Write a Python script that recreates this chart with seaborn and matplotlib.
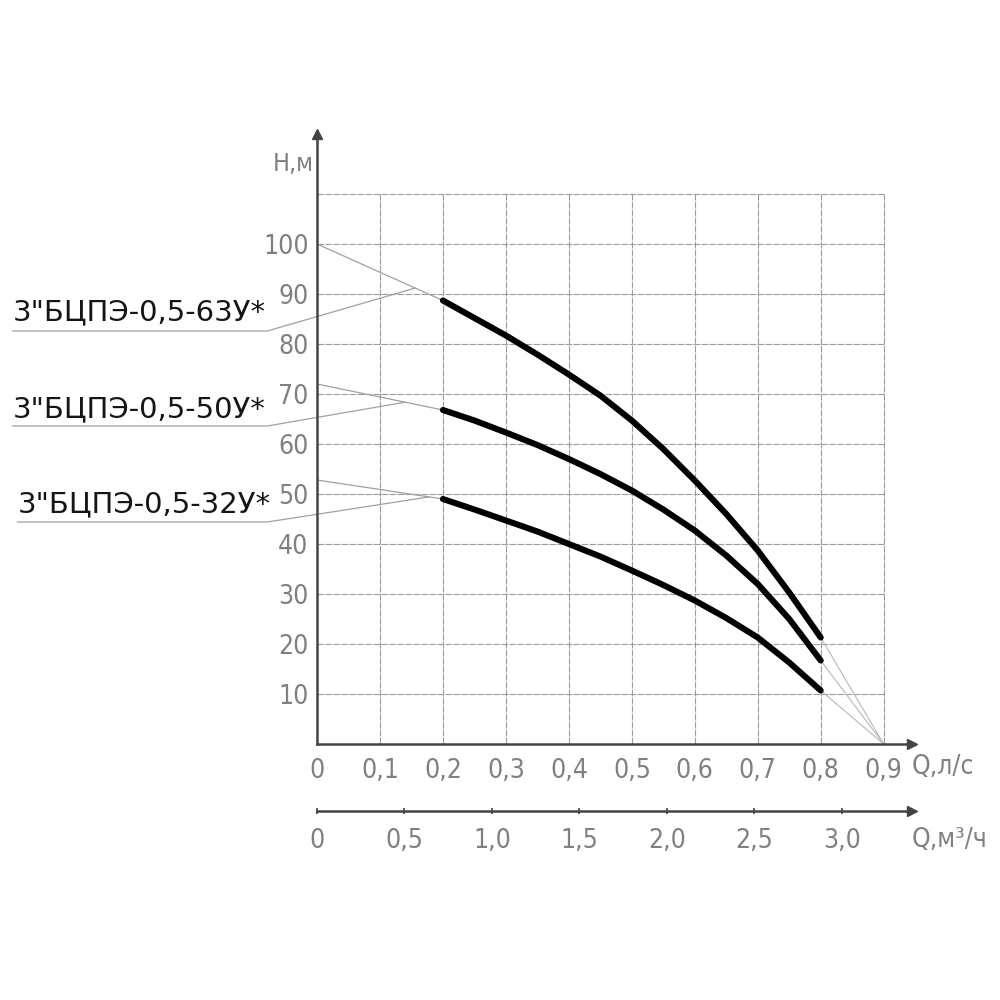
import pandas as pd
from matplotlib import pyplot as plt
import seaborn as sns

# Pump curves: Q in l/s, H in m
q = [0.2, 0.25, 0.3, 0.35, 0.4, 0.45, 0.5, 0.55, 0.6, 0.65, 0.7, 0.75, 0.8]
h_63 = [88.7, 85.2, 81.7, 77.9, 73.9, 69.7, 64.7, 59.0, 52.7, 46.0, 38.7, 30.3, 21.3]
h_50 = [66.8, 64.7, 62.3, 59.8, 57.0, 54.0, 50.7, 46.9, 42.7, 37.7, 32.0, 25.0, 16.7]
h_32 = [49.0, 46.9, 44.7, 42.5, 40.0, 37.5, 34.7, 31.8, 28.7, 25.2, 21.3, 16.3, 10.7]
models = ['3"БЦПЭ-0,5-63У*', '3"БЦПЭ-0,5-50У*', '3"БЦПЭ-0,5-32У*']
h_shutoff = [100, 72, 52.8]      # thin extension to Q = 0
q_max = 0.9                      # thin extension to H = 0
leader_t = [0.78, 0.70, 0.89]    # where label leaders meet the thin line (fraction of 0..0.2)

x_ticks = [0, 0.1, 0.2, 0.3, 0.4, 0.5, 0.6, 0.7, 0.8, 0.9]
y_ticks = [10, 20, 30, 40, 50, 60, 70, 80, 90, 100]
m3h_ticks = [0, 0.5, 1.0, 1.5, 2.0, 2.5, 3.0]


def comma(v, fmt='{:.1f}'):
    return '0' if v == 0 else fmt.format(v).replace('.', ',')


if __name__ == '__main__':
    sns.set_style('white')
    plt.rcParams['font.family'] = ['DejaVu Sans']
    plt.rcParams['font.stretch'] = 'condensed'
    tick_grey = '#808080'
    axis_col = '#444444'

    data = pd.DataFrame({
        'Q': q * 3,
        'H': h_63 + h_50 + h_32,
        'model': [m for m in models for _ in q],
    })

    fig = plt.figure(figsize=(10, 10), dpi=100)
    ax = fig.add_axes([0.317, 0.256, 0.595, 0.61])
    ax.set_xlim(0, 0.945)
    ax.set_ylim(0, 122)

    # hand-drawn style grid, stops at 0.9 / 110
    grid_kw = dict(color='#9c9c9c', lw=0.8, linestyle=(0, (6, 1.2)), zorder=1)
    ax.hlines(y_ticks + [110], 0, 0.9, **grid_kw)
    ax.vlines(x_ticks[1:], 0, 110, **grid_kw)

    # thin extensions of each curve
    curves = [h_63, h_50, h_32]
    for h0, h in zip(h_shutoff, curves):
        ax.plot([0, q[0]], [h0, h[0]], color='#a0a0a0', lw=0.9, zorder=2)
        ax.plot([q[-1], q_max], [h[-1], 0], color='#b8b8b8', lw=0.8, zorder=2)

    sns.lineplot(data=data, x='Q', y='H', hue='model', palette=['black'] * 3,
                 legend=False, lw=4.4, solid_capstyle='round', solid_joinstyle='round',
                 ax=ax, zorder=3)

    # model labels with leader lines
    label_y = [86.4, 67.0, 48.0]
    under_y = [82.6, 63.6, 44.4]
    label_x = [-0.484, -0.484, -0.476]
    for i, name in enumerate(models):
        h = curves[i]
        t = leader_t[i]
        px, py = q[0] * t, h_shutoff[i] + (h[0] - h_shutoff[i]) * t
        ax.text(label_x[i], label_y[i], name, fontsize=21, family=['DejaVu Sans'],
                fontstretch='normal', color='#151515', va='center', ha='left',
                clip_on=False)
        ax.plot([label_x[i], -0.079, px], [under_y[i], under_y[i], py],
                color='#a0a0a0', lw=0.9, clip_on=False)

    # axes with arrows
    sns.despine(ax=ax)
    for s in ['left', 'bottom']:
        ax.spines[s].set_color(axis_col)
        ax.spines[s].set_linewidth(1.8)
    ax.plot(1, 0, '>', color=axis_col, ms=7, transform=ax.transAxes, clip_on=False)
    ax.plot(0, 1, '^', color=axis_col, ms=7, transform=ax.transAxes, clip_on=False)

    ax.set_xticks(x_ticks)
    ax.set_xticklabels([comma(v) for v in x_ticks])
    ax.set_yticks(y_ticks)
    ax.set_yticklabels([str(v) for v in y_ticks])
    ax.tick_params(axis='x', length=0, pad=10, labelsize=19, labelcolor=tick_grey)
    ax.tick_params(axis='y', length=0, pad=6, labelsize=19, labelcolor=tick_grey)
    ax.set_xlabel('')
    ax.set_ylabel('')

    ax.text(-0.038, 116, 'Н,м', fontsize=18, color=tick_grey, ha='center', va='center')
    ax.text(0.944, -4.6, 'Q,л/с', fontsize=19, color=tick_grey, ha='left', va='center',
            clip_on=False)

    # second flow scale in m3/h
    sec = ax.secondary_xaxis(-0.11, functions=(lambda v: v * 3.6, lambda v: v / 3.6))
    sec.set_xticks(m3h_ticks)
    sec.set_xticklabels([comma(v) for v in m3h_ticks])
    sec.tick_params(direction='inout', length=5, width=1.2, color=axis_col, pad=10,
                    labelsize=19, labelcolor=tick_grey)
    sec.spines['bottom'].set_color(axis_col)
    sec.spines['bottom'].set_linewidth(1.8)
    ax.plot(1, -0.11, '>', color=axis_col, ms=7, transform=ax.transAxes, clip_on=False)
    ax.text(0.944, -19.2, 'Q,м³/ч', fontsize=19, color=tick_grey, ha='left', va='center',
            clip_on=False)

    fig.savefig('out.png', dpi=100, facecolor='white')
